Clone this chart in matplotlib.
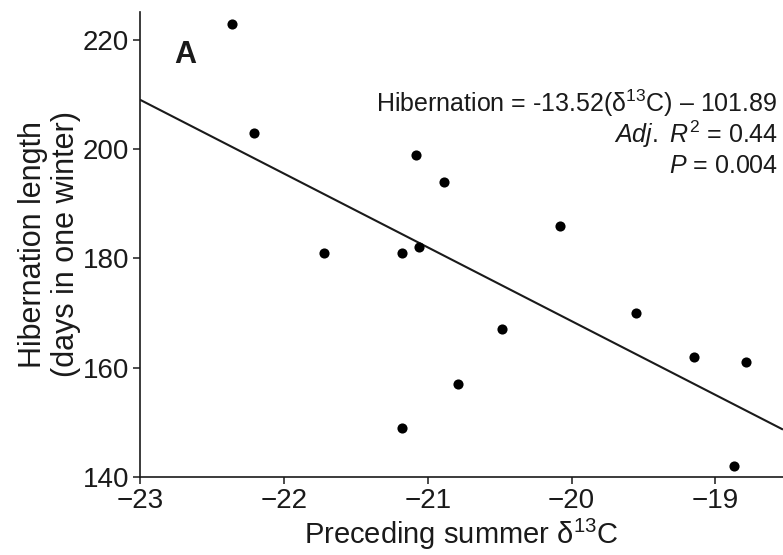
import numpy as np
import matplotlib
matplotlib.use("Agg")
import matplotlib.pyplot as plt

plt.rcParams.update({
    "font.family": ["Liberation Sans", "DejaVu Sans"],
    "mathtext.fontset": "custom",
    "mathtext.rm": "Liberation Sans",
    "mathtext.it": "Liberation Sans:italic",
    "mathtext.bf": "Liberation Sans:bold",
    "axes.spines.top": False,
    "axes.spines.right": False,
})

# ------------------------------------------------------------
# Data
# ------------------------------------------------------------
d13c = [-22.36, -22.21, -21.08, -20.89, -20.08, -21.72, -21.18, -21.06,
        -20.48, -20.79, -21.18, -19.55, -19.15, -18.79, -18.87]
hibernation = [223, 203, 199, 194, 186, 181, 181, 182,
               167, 157, 149, 170, 162, 161, 142]

# regression line as printed on the panel
slope = -13.52
intercept = -101.89

x_ticks = [-23, -22, -21, -20, -19]
y_ticks = [140, 160, 180, 200, 220]
x_range = [-23, -18.53]
y_range = [140, 225.2]

ink = "#1a1a1a"

fig = plt.figure(figsize=(7.83, 5.55), dpi=100)
ax = fig.add_axes([0.1788, 0.1411, 0.8212, 0.8378])

line_x = np.array(x_range)
ax.plot(line_x, slope * line_x + intercept, color=ink, linewidth=1.5,
        solid_capstyle="butt")
ax.plot(d13c, hibernation, "o", color="black", markersize=7.3, markeredgewidth=0)

ax.set_xlim(*x_range)
ax.set_ylim(*y_range)
ax.set_xticks(x_ticks)
ax.set_yticks(y_ticks)
ax.set_xticklabels([f"\u2212{abs(t)}" for t in x_ticks])

for s in ("left", "bottom"):
    ax.spines[s].set_linewidth(1.2)
    ax.spines[s].set_color(ink)
ax.tick_params(direction="out", length=5, width=1.1, color=ink,
               labelsize=20, labelcolor=ink, pad=3)
ax.tick_params(axis="x", pad=3)

ax.set_xlabel("Preceding summer \u03b4$^{13}$C", fontsize=21, color=ink, va="top")
ax.xaxis.set_label_coords(0.5, -0.086)
ax.set_ylabel("Hibernation length\n(days in one winter)", fontsize=22,
              color=ink, linespacing=1.12)
ax.yaxis.set_label_coords(-0.092, 0.5)

ax.text(0.054, 0.89, "A", transform=ax.transAxes, fontsize=22,
        fontweight="bold", color=ink, ha="left", va="baseline")

ax.text(0.992, 0.784, "Hibernation = -13.52(\u03b4$^{\\mathrm{13}}$C) \u2013 101.89",
        transform=ax.transAxes, fontsize=18, color=ink, ha="right", va="baseline")
ax.text(0.992, 0.717, r"$\mathit{Adj.}$ $\mathit{R}^{\mathrm{2}}$ = 0.44",
        transform=ax.transAxes, fontsize=18, color=ink, ha="right", va="baseline")
ax.text(0.992, 0.653, r"$\mathit{P}$ = 0.004",
        transform=ax.transAxes, fontsize=18, color=ink, ha="right", va="baseline")

fig.savefig("out.png", dpi=100)
